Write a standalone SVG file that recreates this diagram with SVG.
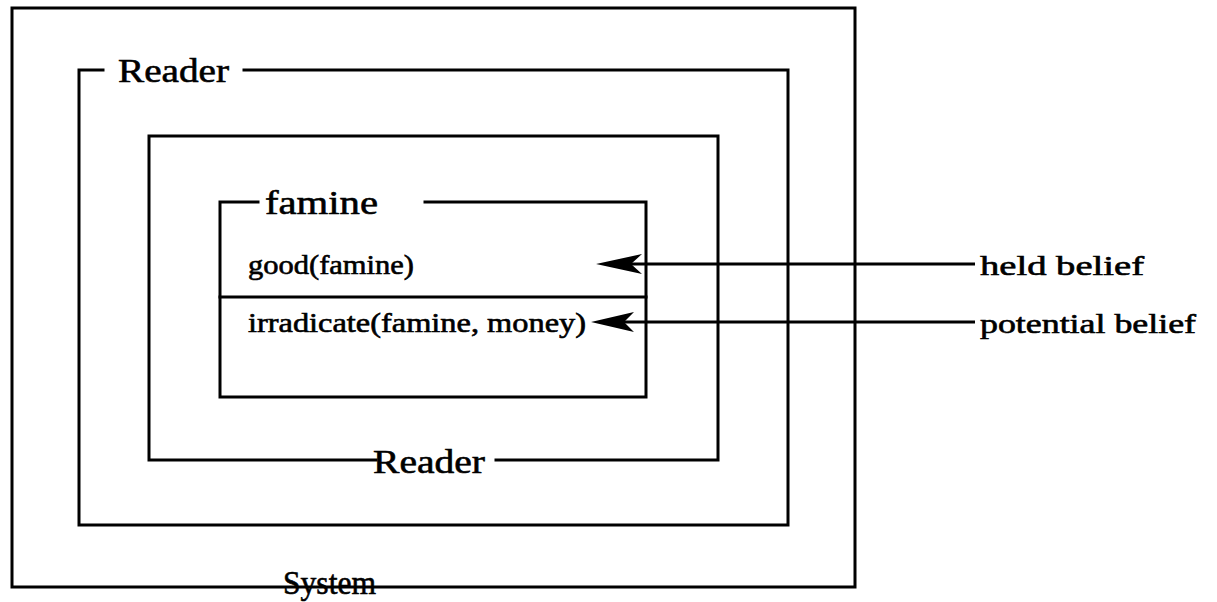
<svg xmlns="http://www.w3.org/2000/svg" width="1217" height="602" viewBox="0 0 1217 602">
  <style>
    .frame { fill: none; stroke: #000; stroke-width: 3; stroke-linecap: square; }
    .lbl { font-family: "Liberation Serif", "Times New Roman", serif; fill: #000; stroke: #000; stroke-width: 0.6; }
    .big { font-size: 34px; }
    .small { font-size: 27px; }
    .conn { stroke: #000; stroke-width: 3; fill: none; }
    .head { fill: #000; stroke: none; }
  </style>
  <rect width="1217" height="602" fill="#fff"/>

  <!-- System: outermost context, label sits on the bottom edge -->
  <g id="system">
    <path class="frame" d="M12 587 L12 8 L855 8 L855 587 L12 587"/>
    <text class="lbl big" x="283" y="594" textLength="93" lengthAdjust="spacingAndGlyphs">System</text>
  </g>

  <!-- Reader: outer belief space, label in the top edge -->
  <g id="reader-outer">
    <path class="frame" d="M103 70 L79 70 L79 525 L788 525 L788 70 L244 70"/>
    <text class="lbl big" x="118" y="82" textLength="111" lengthAdjust="spacingAndGlyphs">Reader</text>
  </g>

  <!-- Reader: nested belief space, label in the bottom edge -->
  <g id="reader-inner">
    <path class="frame" d="M376 460 L149 460 L149 136 L718 136 L718 460 L496 460"/>
    <text class="lbl big" x="373" y="473" textLength="112" lengthAdjust="spacingAndGlyphs">Reader</text>
  </g>

  <!-- famine: topic box with two belief slots -->
  <g id="famine">
    <path class="frame" d="M258 202 L220 202 L220 397 L646 397 L646 202 L425 202"/>
    <line class="frame" x1="220" y1="297" x2="646" y2="297"/>
    <text class="lbl big" x="265" y="214" textLength="113" lengthAdjust="spacingAndGlyphs">famine</text>
    <text class="lbl small" x="248" y="274" textLength="166" lengthAdjust="spacingAndGlyphs">good(famine)</text>
    <text class="lbl small" x="248" y="332" textLength="338" lengthAdjust="spacingAndGlyphs">irradicate(famine, money)</text>
  </g>

  <!-- side labels -->
  <g id="held-belief">
    <text class="lbl small" x="980" y="275" textLength="164" lengthAdjust="spacingAndGlyphs">held belief</text>
  </g>
  <g id="potential-belief">
    <text class="lbl small" x="980" y="333" textLength="216" lengthAdjust="spacingAndGlyphs">potential belief</text>
  </g>

  <!-- connectors -->
  <g id="connectors">
    <line class="conn" x1="975" y1="264" x2="628" y2="264"/>
    <path class="head" d="M596 264 L642 254 L631 264 L642 274 Z"/>
    <line class="conn" x1="975" y1="322" x2="622" y2="322"/>
    <path class="head" d="M591 322 L634 312 L624 322 L634 332 Z"/>
  </g>
</svg>
